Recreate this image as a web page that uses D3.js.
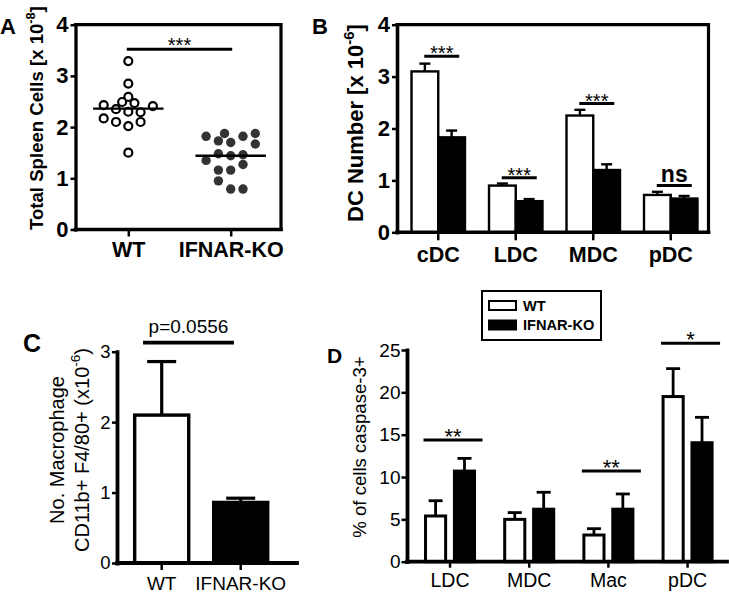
<!DOCTYPE html>
<html><head><meta charset="utf-8">
<script src="https://cdn.jsdelivr.net/npm/d3@7"></script>
<style>body{margin:0;background:#fff} svg{display:block}</style>
</head><body><svg id="c" width="729" height="593"></svg>
<script>
// ---------- Panel A data ----------
const groupsA = ["WT", "IFNAR-KO"];
const wtValuesA = [3.29, 2.85, 2.59, 2.49, 2.47, 2.43, 2.41, 2.35, 2.30, 2.29, 2.17, 2.10, 2.10, 2.02, 1.50];
const wtSlotsA  = [0, 0, 0, -0.5, 0.5, -2, 2, -1, 0, 1, -2, -1, 1, 0, 0];
const koValuesA = [1.82, 1.73, 1.875, 1.70, 1.82, 1.875, 1.67, 1.35, 1.48, 1.44, 1.46, 1.27, 1.16, 1.16, 0.95, 0.79, 0.79];
const koSlotsA  = [-2, -1, -0.5, 0, 1, 2, 2, -2, -1, 0, 1, 1, -1, 0, -1, 0, 1];
const mediansA = [2.36, 1.44];
const ticksA = [0, 1, 2, 3, 4];
const sigA = { level: 3.52, label: "***" };

// ---------- Panel B data ----------
const catsB = ["cDC", "LDC", "MDC", "pDC"];
const wtB = [3.10, 0.90, 2.25, 0.72];
const wtErrB = [0.15, 0.04, 0.11, 0.06];
const koB = [1.83, 0.60, 1.20, 0.65];
const koErrB = [0.13, 0.04, 0.11, 0.05];
const ticksB = [0, 1, 2, 3, 4];
const sigB = [
  { cat: "cDC", level: 3.39, label: "***" },
  { cat: "LDC", level: 1.05, label: "***" },
  { cat: "MDC", level: 2.48, label: "***" },
  { cat: "pDC", level: 0.90, label: "ns" }
];

// ---------- Panel C data ----------
const groupsC = ["WT", "IFNAR-KO"];
const valuesC = [2.10, 0.86];
const errC = [0.76, 0.06];
const ticksC = [0, 1, 2, 3];
const sigC = { level: 3.13, label: "p=0.0556" };

// ---------- Panel D data ----------
const catsD = ["LDC", "MDC", "Mac", "pDC"];
const seriesD = ["WT", "IFNAR-KO"];
const wtD = [5.4, 5.0, 3.15, 19.5];
const wtErrD = [1.8, 0.8, 0.75, 3.3];
const koD = [10.7, 6.2, 6.2, 14.05];
const koErrD = [1.5, 2.0, 1.8, 3.0];
const ticksD = [0, 5, 10, 15, 20, 25];
const sigD = [
  { cat: "LDC", level: 14.36, label: "**" },
  { cat: "Mac", level: 10.7, label: "**" },
  { cat: "pDC", level: 25.8, label: "*" }
];

const FONT = "'Liberation Sans', Arial, Helvetica, sans-serif";
const svg = d3.select("#c").attr("font-family", FONT);
const fills = { "WT": "#ffffff", "IFNAR-KO": "#000000" };
const fmt = d3.format("d");

function styleAxis(gg, o) {
  gg.attr("font-family", FONT).attr("font-size", o.fs).attr("font-weight", o.fw || "normal");
  gg.select(".domain").attr("stroke", "#000").attr("stroke-width", o.sw).attr("stroke-linecap", "square");
  gg.selectAll(".tick line").attr("stroke", "#000").attr("stroke-width", o.tsw);
  gg.selectAll(".tick text").attr("fill", "#000");
}
function hline(g, x1, x2, y, sw) {
  g.append("line").attr("x1", x1).attr("x2", x2).attr("y1", y).attr("y2", y)
    .attr("stroke", "#000").attr("stroke-width", sw).attr("stroke-linecap", "square");
}
function rotLabel(g, x, y, parts, fs, fw, anchor) {
  const t = g.append("text").attr("transform", `translate(${x},${y}) rotate(-90)`)
    .attr("font-size", fs).attr("font-weight", fw).attr("text-anchor", anchor || "start").attr("fill", "#000");
  let shifted = false;
  parts.forEach(p => {
    const ts = t.append("tspan").text(p.t);
    if (p.sup) { ts.attr("font-size", fs * 0.68).attr("dy", -fs * 0.42); shifted = true; }
    else if (shifted) { ts.attr("dy", fs * 0.42); shifted = false; }
  });
  return t;
}
function stars(g, x, lineY, label, fs, gap) {
  g.append("text").attr("x", x).attr("y", lineY - gap + 0.43 * fs)
    .attr("text-anchor", "middle").attr("font-size", fs).attr("fill", "#000").text(label);
}
function errBar(g, cx, y0, y1, capW, sw) {
  g.append("line").attr("x1", cx).attr("x2", cx).attr("y1", y0).attr("y2", y1)
    .attr("stroke", "#000").attr("stroke-width", sw);
  g.append("line").attr("x1", cx - capW / 2).attr("x2", cx + capW / 2).attr("y1", y1).attr("y2", y1)
    .attr("stroke", "#000").attr("stroke-width", sw);
}

// ================= PANEL A =================
{
  const g = svg.append("g");
  const yA = d3.scaleLinear().domain([0, 4]).range([229.5, 24.7]);
  const xA = d3.scalePoint().domain(groupsA).range([128.3, 230.7]);
  const axL = 75.5, axR = 281;
  const slotStep = 12.3;
  g.append("path").attr("d", `M${axL},${yA(4)}H${axR}V${yA(0)}`).attr("fill", "none")
    .attr("stroke", "#000").attr("stroke-width", 3.2).attr("stroke-linecap", "square");
  hline(g, axL, axR, yA(0), 3.6);
  const ya = g.append("g").attr("transform", `translate(${axL},0)`)
    .call(d3.axisLeft(yA).tickValues(ticksA).tickFormat(fmt).tickSize(5).tickPadding(2).tickSizeOuter(0));
  styleAxis(ya, { fs: 22, fw: "bold", sw: 3.3, tsw: 2.5 });
  const xa = g.append("g").attr("transform", `translate(0,${yA(0)})`)
    .call(d3.axisBottom(xA).tickSize(7).tickPadding(5));
  xa.select(".domain").remove();
  styleAxis(xa, { fs: 21.5, fw: "bold", sw: 3, tsw: 2.5 });

  g.selectAll("circle.wt").data(wtValuesA.map((v, i) => ({ v, s: wtSlotsA[i] }))).join("circle")
    .attr("cx", d => xA("WT") + d.s * slotStep).attr("cy", d => yA(d.v)).attr("r", 4)
    .attr("fill", "#fff").attr("stroke", "#000").attr("stroke-width", 2.2);
  g.selectAll("circle.ko").data(koValuesA.map((v, i) => ({ v, s: koSlotsA[i] }))).join("circle")
    .attr("cx", d => xA("IFNAR-KO") + d.s * slotStep).attr("cy", d => yA(d.v)).attr("r", 4.7)
    .attr("fill", "#333");
  groupsA.forEach((k, i) => hline(g, xA(k) - 34, xA(k) + 34, yA(mediansA[i]), 2.4));

  hline(g, xA("WT"), xA("IFNAR-KO"), yA(sigA.level), 3);
  stars(g, (xA("WT") + xA("IFNAR-KO")) / 2, yA(sigA.level), sigA.label, 20, 5.5);

  rotLabel(g, 43, 230, [{ t: "Total Spleen Cells [x 10" }, { t: "-8", sup: true }, { t: "]" }], 18.6, "bold");
  g.append("text").attr("x", 0).attr("y", 34).attr("font-size", 22).attr("font-weight", "bold").text("A");
}

// ================= PANEL B =================
{
  const g = svg.append("g");
  const yB = d3.scaleLinear().domain([0, 4]).range([232.3, 24.7]);
  const xB = d3.scaleBand().domain(catsB).range([399.5, 709.5]).paddingInner(0.31).paddingOuter(0.155);
  const xIn = d3.scaleBand().domain(seriesD).range([0, xB.bandwidth()]);
  const axL = 397, axR = 708.5;
  g.append("path").attr("d", `M${axL},${yB(4)}H${axR}V${yB(0)}`).attr("fill", "none")
    .attr("stroke", "#000").attr("stroke-width", 3.2).attr("stroke-linecap", "square");
  const rows = catsB.map((c, i) => [
    { c, s: "WT", v: wtB[i], e: wtErrB[i] },
    { c, s: "IFNAR-KO", v: koB[i], e: koErrB[i] }
  ]).flat();
  g.selectAll("rect.bar").data(rows).join("rect")
    .attr("x", d => xB(d.c) + xIn(d.s)).attr("width", xIn.bandwidth())
    .attr("y", d => yB(d.v)).attr("height", d => yB(0) - yB(d.v))
    .attr("fill", d => fills[d.s]).attr("stroke", "#000").attr("stroke-width", 2.4);
  rows.forEach(d => errBar(g, xB(d.c) + xIn(d.s) + xIn.bandwidth() / 2, yB(d.v), yB(d.v + d.e), 11, 2.4));

  hline(g, axL, axR, yB(0), 3.6);
  const ya = g.append("g").attr("transform", `translate(${axL},0)`)
    .call(d3.axisLeft(yB).tickValues(ticksB).tickFormat(fmt).tickSize(5).tickPadding(2).tickSizeOuter(0));
  styleAxis(ya, { fs: 22, fw: "bold", sw: 3.6, tsw: 2.5 });
  const xa = g.append("g").attr("transform", `translate(0,${yB(0)})`)
    .call(d3.axisBottom(xB).tickSize(8).tickPadding(6));
  xa.select(".domain").remove();
  styleAxis(xa, { fs: 21.5, fw: "bold", sw: 3, tsw: 2.5 });

  sigB.forEach(s => {
    const cx = xB(s.cat) + xB.bandwidth() / 2 + 3.5;
    const y = yB(s.level);
    hline(g, cx - 16, cx + 16, y, 3);
    if (s.label === "ns") {
      g.append("text").attr("x", cx).attr("y", y - 4).attr("text-anchor", "middle")
        .attr("font-size", 23).attr("font-weight", "bold").text(s.label);
    } else stars(g, cx, y, s.label, 20, 4.5);
  });

  rotLabel(g, 363, 222, [{ t: "DC Number [x 10" }, { t: "-6", sup: true }, { t: "]" }], 22, "bold");
  g.append("text").attr("x", 312).attr("y", 34).attr("font-size", 22).attr("font-weight", "bold").text("B");
}

// ================= PANEL C =================
{
  const g = svg.append("g");
  const yC = d3.scaleLinear().domain([0, 3]).range([563, 351.7]);
  const xC = d3.scaleBand().domain(groupsC).range([122.2, 280.2]).paddingInner(0.316).paddingOuter(0.158);
  const axL = 117, axR = 297;
  const rows = groupsC.map((k, i) => ({ k, v: valuesC[i], e: errC[i] }));
  g.selectAll("rect.bar").data(rows).join("rect")
    .attr("x", d => xC(d.k)).attr("width", xC.bandwidth())
    .attr("y", d => yC(d.v)).attr("height", d => yC(0) - yC(d.v))
    .attr("fill", d => fills[d.k]).attr("stroke", "#000").attr("stroke-width", 3.4);
  rows.forEach(d => errBar(g, xC(d.k) + xC.bandwidth() / 2, yC(d.v), yC(d.v + d.e), 29, 3.2));

  hline(g, axL, axR, yC(0), 3.8);
  const ya = g.append("g").attr("transform", `translate(${axL},0)`)
    .call(d3.axisLeft(yC).tickValues(ticksC).tickFormat(fmt).tickSize(5).tickPadding(1.5).tickSizeOuter(0));
  styleAxis(ya, { fs: 18.5, sw: 3.8, tsw: 2.5 });
  const xa = g.append("g").attr("transform", `translate(0,${yC(0)})`)
    .call(d3.axisBottom(xC).tickSize(7).tickPadding(6.5));
  xa.select(".domain").remove();
  styleAxis(xa, { fs: 19, sw: 3, tsw: 2.5 });

  const x1 = xC("WT") + xC.bandwidth() * 0.19, x2 = xC("IFNAR-KO") + xC.bandwidth() * 0.34;
  hline(g, x1, x2, yC(sigC.level), 3.8);
  g.append("text").attr("x", (x1 + x2) / 2).attr("y", yC(sigC.level) - 9.7).attr("text-anchor", "middle")
    .attr("font-size", 19).text(sigC.label);

  rotLabel(g, 64, 450, [{ t: "No. Macrophage" }], 20, "normal", "middle");
  rotLabel(g, 88.5, 450, [{ t: "CD11b+ F4/80+ (x10" }, { t: "-6", sup: true }, { t: ")" }], 20, "normal", "middle");
  g.append("text").attr("x", 23).attr("y", 351.7).attr("font-size", 25).attr("font-weight", "bold").text("C");
}

// ================= PANEL D =================
{
  const g = svg.append("g");
  const yD = d3.scaleLinear().domain([0, 25]).range([561.7, 350]);
  const xD = d3.scaleBand().domain(catsD).range([410.4, 727.2]).paddingInner(0.343).paddingOuter(0.172);
  const xIn = d3.scaleBand().domain(seriesD).range([0, xD.bandwidth()]).paddingInner(0.2);
  const axL = 407, axR = 727;
  const rows = catsD.map((c, i) => [
    { c, s: "WT", v: wtD[i], e: wtErrD[i] },
    { c, s: "IFNAR-KO", v: koD[i], e: koErrD[i] }
  ]).flat();
  g.selectAll("rect.bar").data(rows).join("rect")
    .attr("x", d => xD(d.c) + xIn(d.s) + 1.5).attr("width", xIn.bandwidth() - 3)
    .attr("y", d => yD(d.v)).attr("height", d => yD(0) - yD(d.v))
    .attr("fill", d => fills[d.s]).attr("stroke", "#000").attr("stroke-width", 3);
  rows.forEach(d => errBar(g, xD(d.c) + xIn(d.s) + xIn.bandwidth() / 2, yD(d.v), yD(d.v + d.e), 14, 2.8));

  hline(g, axL, axR, yD(0), 3.8);
  const ya = g.append("g").attr("transform", `translate(${axL},0)`)
    .call(d3.axisLeft(yD).tickValues(ticksD).tickFormat(fmt).tickSize(5.5).tickPadding(1).tickSizeOuter(0));
  styleAxis(ya, { fs: 19, sw: 3.8, tsw: 2.5 });
  const xa = g.append("g").attr("transform", `translate(0,${yD(0)})`)
    .call(d3.axisBottom(xD).tickSize(6).tickPadding(5.5));
  xa.select(".domain").remove();
  styleAxis(xa, { fs: 19.5, sw: 3, tsw: 2.5 });

  sigD.forEach(s => {
    const cx = xD(s.cat) + xD.bandwidth() / 2 + 3;
    const y = yD(s.level);
    hline(g, cx - 28, cx + 28, y, 3);
    stars(g, cx, y, s.label, 22, 5.5);
  });

  rotLabel(g, 366, 447, [{ t: "% of cells caspase-3+" }], 18.6, "normal", "middle");
  g.append("text").attr("x", 327).attr("y", 363.3).attr("font-size", 21).attr("font-weight", "bold").text("D");

  const lg = g.append("g");
  lg.append("rect").attr("x", 482).attr("y", 291).attr("width", 119).attr("height", 49)
    .attr("fill", "#fff").attr("stroke", "#000").attr("stroke-width", 2);
  seriesD.forEach((s, i) => {
    lg.append("rect").attr("x", 489).attr("y", 301 + i * 19.5).attr("width", 27).attr("height", 9)
      .attr("fill", fills[s]).attr("stroke", "#000").attr("stroke-width", 2);
    lg.append("text").attr("x", 523).attr("y", 310.5 + i * 19.5).attr("font-size", 14.6)
      .attr("font-weight", "bold").text(s);
  });
}
</script></body></html>
